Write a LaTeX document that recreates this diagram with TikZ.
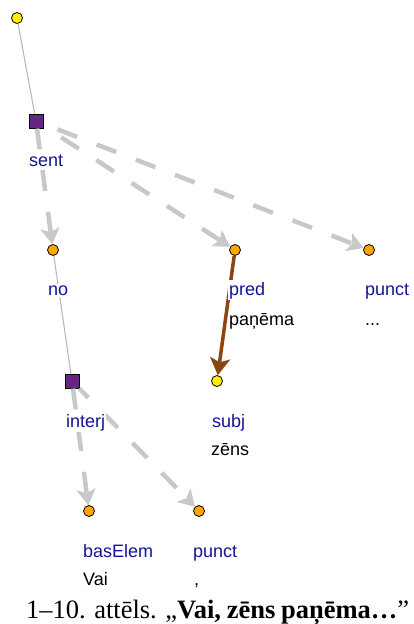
\documentclass[tikz,border=0pt]{standalone}
\usepackage{fontspec}
\usepackage{tikz}
\usetikzlibrary{arrows.meta}
\setmainfont{Liberation Serif}
\newfontfamily\treefont{Liberation Sans}
\definecolor{mpurple}{RGB}{102,36,131}
\definecolor{mlabel}{RGB}{20,20,150}
\definecolor{mgray}{RGB}{200,200,200}
\definecolor{mthin}{RGB}{185,185,185}
\definecolor{mbrown}{RGB}{139,69,19}
\definecolor{morange}{RGB}{255,165,0}

\tikzset{
  tok/.style={circle, draw=black, fill=morange, line width=0.8pt, minimum size=11pt, inner sep=0pt},
  top/.style={tok, fill=yellow},
  phrase/.style={rectangle, draw=black, fill=mpurple, line width=1pt, minimum size=14pt, inner sep=0pt},
  role/.style={anchor=base west, inner xsep=1pt, inner ysep=1.5pt, fill=white, text=mlabel, font=\treefont\fontsize{18}{20}\selectfont},
  form/.style={anchor=base west, inner xsep=1pt, inner ysep=1.5pt, font=\treefont\fontsize{18}{20}\selectfont},
  dep/.style={draw=mgray, line width=4.5pt, dash pattern=on 21pt off 21pt, -{Stealth[length=16pt,width=19pt,inset=4pt]}},
  link/.style={draw=mthin, line width=1.1pt},
  core/.style={draw=mbrown, line width=3.5pt, -{Stealth[length=17pt,width=20pt,inset=4pt]}}
}

\begin{document}
\begin{tikzpicture}[x=1pt,y=-1pt]
    \useasboundingbox (0,0) rectangle (413,624);

    % tree nodes
    \node [top] (root) at (17,18) {};
    \node [phrase] (sent) at (36,121) {};
    \node [tok] (no) at (53,250) {};
    \node [tok] (pred) at (235,250) {};
    \node [tok] (punct) at (369,250) {};
    \node [phrase] (interj) at (72,381) {};
    \node [top] (subj) at (217,381) {};
    \node [tok] (baselem) at (89,511) {};
    \node [tok] (punctb) at (199,511) {};

    % edges
    \draw [link] (root) -- (sent);
    \draw [link] (no) -- (interj);
    \draw [dep] (sent) -- (no);
    \draw [dep, dash phase=21pt] (sent) -- (pred);
    \draw [dep, dash phase=27pt] (sent) -- (punct);
    \draw [dep] (interj) -- (baselem);
    \draw [dep, dash phase=8pt] (interj) -- (punctb);
    \draw [core] (pred) -- (subj);

    % labels
    \node [role] (l-sent) at (28,166) {sent};
    \node [role] (l-no) at (47,295) {no};
    \node [role] (l-pred) at (228,295) {pred};
    \node [form] (w-pred) at (228,325) {paņēma};
    \node [role] (l-punct) at (364,295) {punct};
    \node [form] (w-punct) at (364,325) {...};
    \node [role] (l-interj) at (65,427) {interj};
    \node [role] (l-subj) at (211,427) {subj};
    \node [form] (w-subj) at (210,455) {zēns};
    \node [role] (l-baselem) at (82,557) {basElem};
    \node [form] (w-baselem) at (82,585) {Vai};
    \node [role] (l-punctb) at (192,557) {punct};
    \node [form] (w-punctb) at (193,585) {,};

    \node [anchor=base west, inner sep=0pt, font=\fontsize{26.5}{30}\selectfont] (caption) at (26,618)
      {\makebox[383pt][s]{1–10. attēls. „\textbf{Vai, zēns paņēma…}”}};
\end{tikzpicture}
\end{document}
